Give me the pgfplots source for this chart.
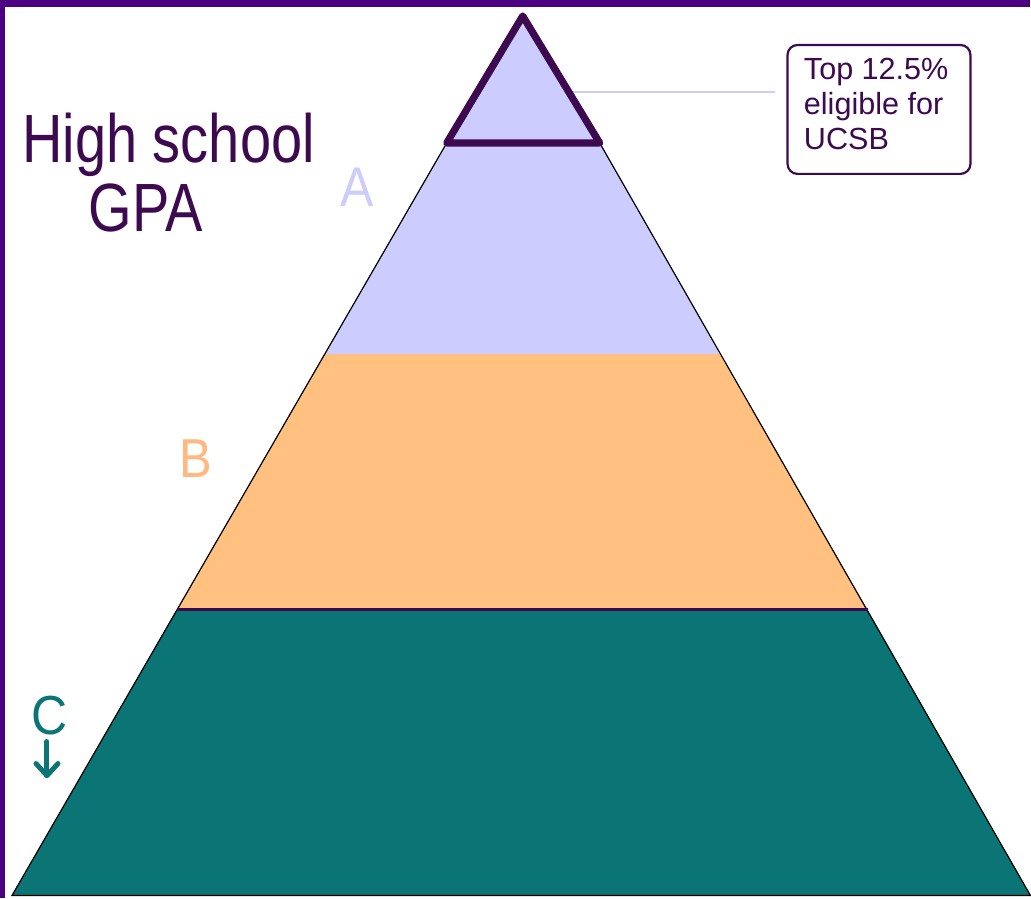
\documentclass[border=0pt]{standalone}
\usepackage{pgfplots}
\pgfplotsset{compat=1.18}
\usepackage{graphicx}
\usepackage{fontspec}
\setmainfont{Liberation Sans}
\definecolor{bordpurple}{HTML}{4B0082}
\definecolor{darkpurp}{HTML}{3D0A4F}
\definecolor{lav}{HTML}{CCCCFF}
\definecolor{peach}{HTML}{FFC080}
\definecolor{peachtxt}{HTML}{FFB880}
\definecolor{tealc}{HTML}{0A7574}
\begin{document}
\begin{tikzpicture}
\begin{axis}[
  width=515.5pt, height=449.5pt, scale only axis, hide axis,
  xmin=0, xmax=1031, ymin=0, ymax=899, y dir=reverse, clip=false]
% borders
\addplot[draw=none, fill=bordpurple] coordinates {(0,0) (1031,0) (1031,7) (0,7)} --cycle;
\addplot[draw=none, fill=bordpurple] coordinates {(0,0) (5,0) (5,899) (0,899)} --cycle;
% layers
\addplot[draw=none, fill=tealc] coordinates {(12,896) (177,610) (868,610) (1031,896)} --cycle;
\addplot[draw=none, fill=peach] coordinates {(177,610) (325,354) (720,354) (868,610)} --cycle;
\addplot[draw=none, fill=lav] coordinates {(325,354) (447,143) (600,143) (720,354)} --cycle;
% outer edges
\addplot[black, line width=0.6pt] coordinates {(447,143) (12,896) (1031,896) (600,143)};
% B/C boundary
\addplot[darkpurp, line width=1.5pt] coordinates {(177,610) (868,610)};
% connector
\addplot[lav, line width=1pt] coordinates {(567,92) (775,92)};
% top triangle
\addplot[fill=lav, draw=darkpurp, line width=3.6pt, line join=round] coordinates {(523,16) (447,143) (600,143)} --cycle;
% box
\draw[darkpurp, line width=1.1pt, rounded corners=5pt] (axis cs:788,45) rectangle (axis cs:971,174);
\node[anchor=base west, inner sep=0pt, text=darkpurp, font=\fontsize{15.3pt}{17.5pt}\selectfont] at (axis cs:804,80) {Top 12.5\%};
\node[anchor=base west, inner sep=0pt, text=darkpurp, font=\fontsize{15.3pt}{17.5pt}\selectfont] at (axis cs:804,115) {eligible for};
\node[anchor=base west, inner sep=0pt, text=darkpurp, font=\fontsize{15.3pt}{17.5pt}\selectfont] at (axis cs:804,150) {UCSB};
% titles
\node[anchor=base west, inner sep=0pt, text=darkpurp, font=\fontsize{28pt}{30pt}\selectfont] at (axis cs:22,163) {\scalebox{1}[1.22]{High school}};
\node[anchor=base, inner sep=0pt, text=darkpurp, font=\fontsize{28pt}{30pt}\selectfont] at (axis cs:146,232) {\scalebox{1}[1.22]{GPA}};
\node[anchor=base west, inner sep=0pt, text=lav, font=\fontsize{25pt}{30pt}\selectfont] at (axis cs:340,207) {\scalebox{1}[1.12]{A}};
\node[anchor=base west, inner sep=0pt, text=peachtxt, font=\fontsize{24.5pt}{30pt}\selectfont] at (axis cs:179,478) {\scalebox{1}[1.12]{B}};
\node[anchor=base west, inner sep=0pt, text=tealc, font=\fontsize{25pt}{30pt}\selectfont] at (axis cs:31,735) {\scalebox{1}[1.1]{C}};
\draw[tealc, line width=2.5pt, line cap=round, line join=round] (axis cs:47,742) -- (axis cs:47,776);
\draw[tealc, line width=2.5pt, line cap=round, line join=round] (axis cs:36,764) -- (axis cs:47,776) -- (axis cs:58,764);
\end{axis}
\end{tikzpicture}
\end{document}
